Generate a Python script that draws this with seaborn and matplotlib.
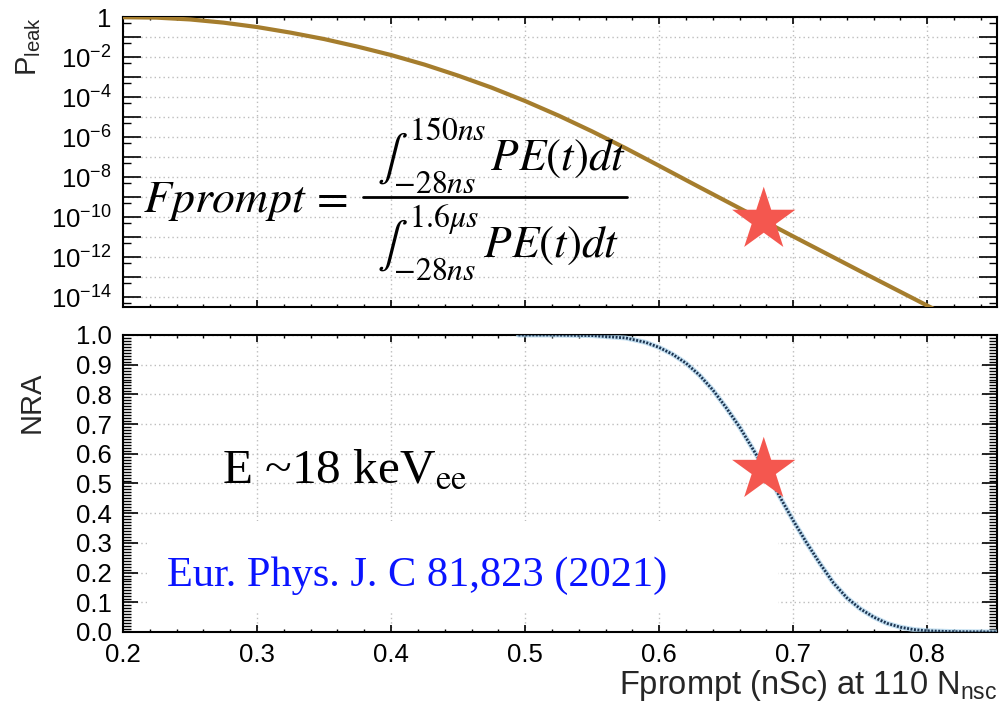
import numpy as np
import pandas as pd
import matplotlib
matplotlib.use("Agg")
import matplotlib.pyplot as plt
import seaborn as sns
from matplotlib.ticker import FixedLocator, FuncFormatter, MultipleLocator, FormatStrFormatter
from matplotlib.patches import Rectangle
from matplotlib.lines import Line2D

# Leakage probability versus Fprompt (stored as log10 of P_leak)
fprompt_leak = [0.200, 0.225, 0.250, 0.275, 0.300, 0.325, 0.350, 0.375, 0.400,
                0.425, 0.450, 0.475, 0.500, 0.525, 0.550, 0.575, 0.600, 0.625,
                0.650, 0.675, 0.700, 0.725, 0.750, 0.775, 0.800, 0.825]
leak_log10 = [-0.01, -0.03, -0.12, -0.28, -0.50, -0.78, -1.10, -1.48, -1.90,
              -2.38, -2.93, -3.53, -4.20, -4.93, -5.72, -6.56, -7.44, -8.33,
              -9.21, -10.09, -10.97, -11.84, -12.71, -13.57, -14.43, -15.29]

# Nuclear-recoil acceptance versus Fprompt
fprompt_nra = [0.495, 0.520, 0.550, 0.575, 0.590, 0.600, 0.610, 0.620, 0.630,
               0.640, 0.650, 0.660, 0.670, 0.680, 0.690, 0.700, 0.710, 0.720,
               0.730, 0.740, 0.750, 0.760, 0.770, 0.780, 0.790, 0.800, 0.820,
               0.852]
nra = [1.000, 1.000, 0.998, 0.990, 0.975, 0.958, 0.935, 0.905, 0.865,
       0.815, 0.755, 0.690, 0.615, 0.540, 0.455, 0.375, 0.300, 0.230,
       0.165, 0.115, 0.078, 0.050, 0.029, 0.016, 0.008, 0.004, 0.001,
       0.000]

# Selected working point
cut_fprompt = 0.678
cut_leak_log10 = -10.15
cut_nra = 0.545

x_ticks = [0.2, 0.3, 0.4, 0.5, 0.6, 0.7, 0.8]
leak_decades = list(range(0, -15, -1))

sns.set_theme(style="white")
plt.rcParams["font.family"] = ["Liberation Sans", "DejaVu Sans"]
plt.rcParams["mathtext.fontset"] = "custom"
plt.rcParams["mathtext.rm"] = "Liberation Sans"
plt.rcParams["mathtext.it"] = "Liberation Sans:italic"
plt.rcParams["mathtext.bf"] = "Liberation Sans:bold"
plt.rcParams["axes.edgecolor"] = "black"
plt.rcParams["axes.linewidth"] = 1.5
plt.rcParams["xtick.color"] = "black"
plt.rcParams["ytick.color"] = "black"

LEAK_COLOR = "#a57d2d"
NRA_DARK = "#1b3350"
NRA_HALO = "#a9d1ea"
STAR_COLOR = "#f4574f"
GRID_KW = dict(linestyle=(0, (1, 2.2)), color="#bdbdbd", linewidth=1.0)

fig = plt.figure(figsize=(9.99, 7.10), dpi=100)
ax1 = fig.add_axes([0.1231, 0.5676, 0.8749, 0.4084])
ax2 = fig.add_axes([0.1231, 0.1099, 0.8749, 0.4183])

# ---------- top panel: leakage probability ----------
ax1.set_yscale("log")
df_leak = pd.DataFrame({"Fprompt": fprompt_leak,
                        "P_leak": 10.0 ** np.array(leak_log10)})
sns.lineplot(data=df_leak, x="Fprompt", y="P_leak", ax=ax1,
             color=LEAK_COLOR, linewidth=3.0, zorder=3)
sns.scatterplot(x=[cut_fprompt], y=[10.0 ** cut_leak_log10], ax=ax1,
                marker="*", s=2300, color=STAR_COLOR, edgecolor="none",
                zorder=4, legend=False)

ax1.set_xlim(0.2, 0.852)
ax1.set_ylim(10 ** -14.5, 1.0)
ax1.yaxis.set_major_locator(FixedLocator([10.0 ** d for d in leak_decades]))
ax1.yaxis.set_minor_locator(FixedLocator([5 * 10.0 ** d for d in range(-15, 0)]))


def leak_fmt(v, pos):
    e = int(round(np.log10(v)))
    if e % 2:
        return ""
    if e == 0:
        return "1"
    return rf"$10^{{{e}}}$"


ax1.yaxis.set_major_formatter(FuncFormatter(leak_fmt))
ax1.yaxis.set_minor_formatter(FuncFormatter(lambda v, p: ""))
ax1.xaxis.set_major_locator(FixedLocator(x_ticks))
ax1.xaxis.set_minor_locator(MultipleLocator(0.02))
ax1.tick_params(axis="x", which="major", direction="in", length=5, width=1.2,
                top=True, bottom=True, labelbottom=False)
ax1.tick_params(axis="x", which="minor", direction="in", length=2.5, width=1.0,
                top=True, bottom=True)
ax1.tick_params(axis="y", which="major", direction="in", length=13, width=1.2,
                left=True, right=True, labelsize=18.5, pad=8)
ax1.tick_params(axis="y", which="minor", direction="in", length=6, width=1.0,
                left=True, right=True)
ax1.grid(True, which="major", **GRID_KW)
ax1.set_axisbelow(True)
ax1.set_xlabel("")
ax1.set_ylabel(r"P$_{\rm leak}$", fontsize=21)
ax1.yaxis.set_label_coords(-0.092, 0.90)

# Fprompt definition
ax1.text(0.023, 0.328, r"$Fprompt\,=$", transform=ax1.transAxes, fontsize=33,
         math_fontfamily="stix", ha="left", va="baseline", color="black", zorder=5)
ax1.text(0.2906, 0.472, r"$\int_{-28ns}^{150ns}\,PE(t)dt$", transform=ax1.transAxes,
         fontsize=32.5, math_fontfamily="stix", ha="left", va="baseline",
         color="black", zorder=5)
ax1.text(0.2906, 0.169, r"$\int_{-28ns}^{1.6\mu s}\,PE(t)dt$", transform=ax1.transAxes,
         fontsize=32.5, math_fontfamily="stix", ha="left", va="baseline",
         color="black", zorder=5)
ax1.add_line(Line2D([0.2746, 0.5767], [0.3793, 0.3793], transform=ax1.transAxes,
                    color="black", linewidth=2.0, zorder=5))

# ---------- bottom panel: acceptance ----------
df_nra = pd.DataFrame({"Fprompt": fprompt_nra, "NRA": nra})
sns.lineplot(data=df_nra, x="Fprompt", y="NRA", ax=ax2,
             color=NRA_HALO, linewidth=3.6, alpha=0.7, zorder=3)
sns.lineplot(data=df_nra, x="Fprompt", y="NRA", ax=ax2,
             color=NRA_DARK, linewidth=2.0, zorder=3.5,
             linestyle=(0, (0.7, 0.55)))
sns.scatterplot(x=[cut_fprompt], y=[cut_nra], ax=ax2,
                marker="*", s=2300, color=STAR_COLOR, edgecolor="none",
                zorder=4, legend=False)

ax2.set_xlim(0.2, 0.852)
ax2.set_ylim(0.0, 1.0)
ax2.xaxis.set_major_locator(FixedLocator(x_ticks))
ax2.xaxis.set_minor_locator(MultipleLocator(0.02))
ax2.xaxis.set_major_formatter(FormatStrFormatter("%.1f"))
ax2.yaxis.set_major_locator(MultipleLocator(0.1))
ax2.yaxis.set_minor_locator(MultipleLocator(0.01))
ax2.yaxis.set_major_formatter(FormatStrFormatter("%.1f"))
ax2.tick_params(axis="x", which="major", direction="in", length=5, width=1.2,
                top=True, bottom=True, labelsize=18.5, pad=8)
ax2.tick_params(axis="x", which="minor", direction="in", length=2.5, width=1.0,
                top=True, bottom=True)
ax2.tick_params(axis="y", which="major", direction="in", length=11, width=1.2,
                left=True, right=True, labelsize=18.5, pad=8)
ax2.tick_params(axis="y", which="minor", direction="in", length=5.5, width=1.0,
                left=True, right=True)
ax2.grid(True, which="major", **GRID_KW)
ax2.set_axisbelow(True)

# white backing behind the citation
ax2.add_patch(Rectangle((0.218, 0.065), 0.471, 0.31, facecolor="white",
                        edgecolor="none", zorder=1))

ax2.set_ylabel("NRA", fontsize=21)
ax2.yaxis.set_label_coords(-0.088, 0.772)
ax2.set_xlabel(r"Fprompt (nSc) at 110 N$_{\rm nsc}$", fontsize=23.5, loc="right")
ax2.xaxis.set_label_coords(1.0, -0.12)

ax2.text(0.113, 0.505, r"E ~18 keV$_{\rm ee}$", transform=ax2.transAxes,
         fontsize=35.5, family="Liberation Serif", math_fontfamily="stix",
         ha="left", va="baseline", color="black", zorder=5)
ax2.text(0.050, 0.155, "Eur. Phys. J. C 81,823 (2021)", transform=ax2.transAxes,
         fontsize=30.5, family="Liberation Serif", ha="left", va="baseline",
         color="#0a14ff", zorder=5)

fig.savefig("out.png", dpi=100)
